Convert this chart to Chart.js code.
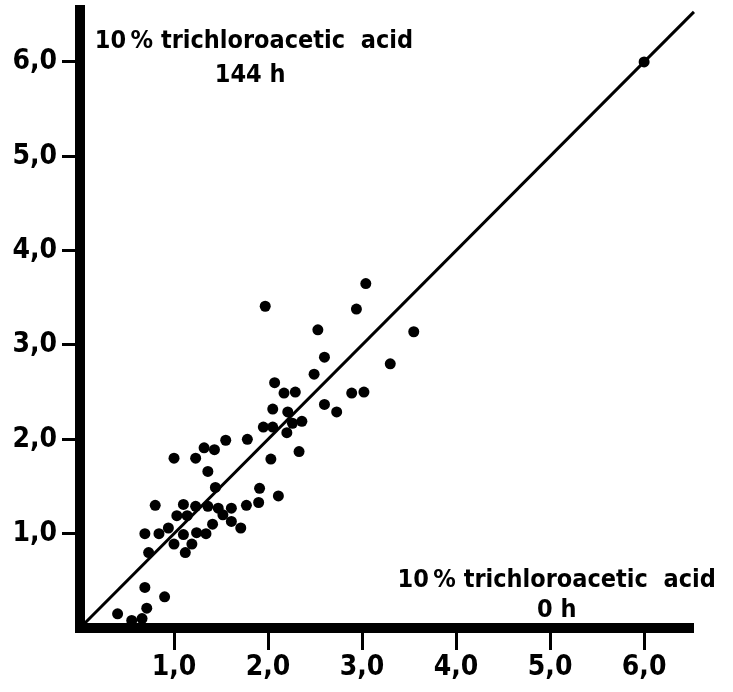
<!DOCTYPE html>
<html>
<head>
<meta charset="utf-8">
<script src="https://cdn.jsdelivr.net/npm/chart.js@4/dist/chart.umd.min.js"></script>
<style>
  html, body { margin: 0; padding: 0; background: #fff; }
  #wrap { width: 733px; height: 692px; }
</style>
</head>
<body>
<div id="wrap"><canvas id="c" width="733" height="692"></canvas></div>
<script>
// ---- data ----
const tca0h = [1.97, 3.04, 2.94, 3.55, 2.53, 2.60, 2.49, 3.30, 2.07, 2.17, 2.29, 2.89, 3.02, 2.60, 2.73, 2.05, 2.21,
  1.95, 2.05, 2.26, 2.36, 2.20, 2.33, 2.03, 1.78, 1.55, 1.32, 1.43, 1.23, 1.00, 1.36, 1.44, 1.91, 2.11,
  0.80, 1.10, 1.23, 1.36, 1.47, 1.61, 1.77, 1.90, 1.03, 1.14, 1.52, 1.61, 1.71, 1.41, 0.94, 1.10, 1.24,
  1.34, 0.69, 0.84, 0.73, 1.00, 1.12, 1.19, 0.69, 0.90, 0.40, 0.71, 0.66, 0.55, 6.00];
const tca144h = [3.41, 3.65, 3.38, 3.14, 3.16, 2.87, 2.69, 2.80, 2.60, 2.49, 2.50, 2.49, 2.50, 2.37, 2.29, 2.32, 2.29,
  2.13, 2.13, 2.17, 2.19, 2.07, 1.87, 1.79, 2.00, 1.99, 1.91, 1.89, 1.80, 1.80, 1.66, 1.49, 1.48, 1.40,
  1.30, 1.31, 1.29, 1.29, 1.27, 1.27, 1.30, 1.33, 1.19, 1.19, 1.20, 1.13, 1.06, 1.10, 1.06, 0.99, 1.01,
  1.00, 1.00, 1.00, 0.80, 0.89, 0.80, 0.89, 0.43, 0.33, 0.15, 0.21, 0.10, 0.08, 6.00];
const identityLine = [0, 6.53];
const tickValues = [1, 2, 3, 4, 5, 6];
const tickLabels = ['1,0', '2,0', '3,0', '4,0', '5,0', '6,0'];
const xMax = 6.52;
const yMax = 6.55;
const yTitle = ['10\u2009% trichloroacetic  acid', '144 h'];
const xTitle = ['10\u2009% trichloroacetic  acid', '0 h'];

// ---- chart ----
const FONT = "'DejaVu Sans Condensed', 'DejaVu Sans', sans-serif";
const points = tca0h.map((v, i) => ({ x: v, y: tca144h[i] }));
const linePts = identityLine.map(v => ({ x: v, y: v }));

const annot = {
  id: 'annot',
  afterDraw(chart) {
    const { ctx, scales: { x, y } } = chart;
    ctx.save();
    ctx.fillStyle = '#000';
    ctx.textAlign = 'center';
    ctx.textBaseline = 'alphabetic';
    ctx.font = 'bold 25px ' + FONT;
    ctx.fillText(yTitle[0], x.getPixelForValue(1.85), y.getPixelForValue(6.15));
    ctx.fillText(yTitle[1], x.getPixelForValue(1.81), y.getPixelForValue(5.79));
    ctx.fillText(xTitle[0], x.getPixelForValue(5.07), y.getPixelForValue(0.43));
    ctx.fillText(xTitle[1], x.getPixelForValue(5.07), y.getPixelForValue(0.12));
    ctx.restore();
  }
};

new Chart(document.getElementById('c'), {
  data: {
    datasets: [
      { type: 'line', data: linePts, borderColor: '#000', borderWidth: 3, pointRadius: 0, clip: false, order: 2 },
      { type: 'scatter', data: points, backgroundColor: '#000', borderColor: '#000', pointRadius: 5.5, borderWidth: 0, clip: false, order: 1 }
    ]
  },
  options: {
    responsive: false,
    animation: false,
    devicePixelRatio: 1,
    layout: { padding: { top: 10, right: 40, left: 0, bottom: 0 } },
    plugins: { legend: { display: false }, tooltip: { enabled: false } },
    scales: {
      x: {
        type: 'linear', position: 'bottom', min: 0, max: xMax,
        afterBuildTicks: s => { s.ticks = tickValues.map(v => ({ value: v })); },
        afterFit: s => { s.height = 64; s.paddingLeft = 0; s.paddingRight = 0; },
        border: { display: true, width: 10, color: '#000' },
        grid: { drawOnChartArea: false, drawTicks: true, tickLength: 22, tickWidth: 3, tickColor: '#000' },
        ticks: { callback: (v, i) => tickLabels[i], color: '#000', font: { family: FONT, size: 28, weight: 'bold' }, padding: 1, maxRotation: 0 }
      },
      y: {
        type: 'linear', position: 'left', min: 0, max: yMax,
        afterBuildTicks: s => { s.ticks = tickValues.map(v => ({ value: v })); },
        afterFit: s => { s.width = 80; s.paddingTop = 0; s.paddingBottom = 0; },
        border: { display: true, width: 10, color: '#000' },
        grid: { drawOnChartArea: false, drawTicks: true, tickLength: 18, tickWidth: 3, tickColor: '#000' },
        ticks: { callback: (v, i) => tickLabels[i], color: '#000', font: { family: FONT, size: 28, weight: 'bold' }, padding: 5 }
      }
    }
  },
  plugins: [annot]
});
</script>
</body>
</html>
